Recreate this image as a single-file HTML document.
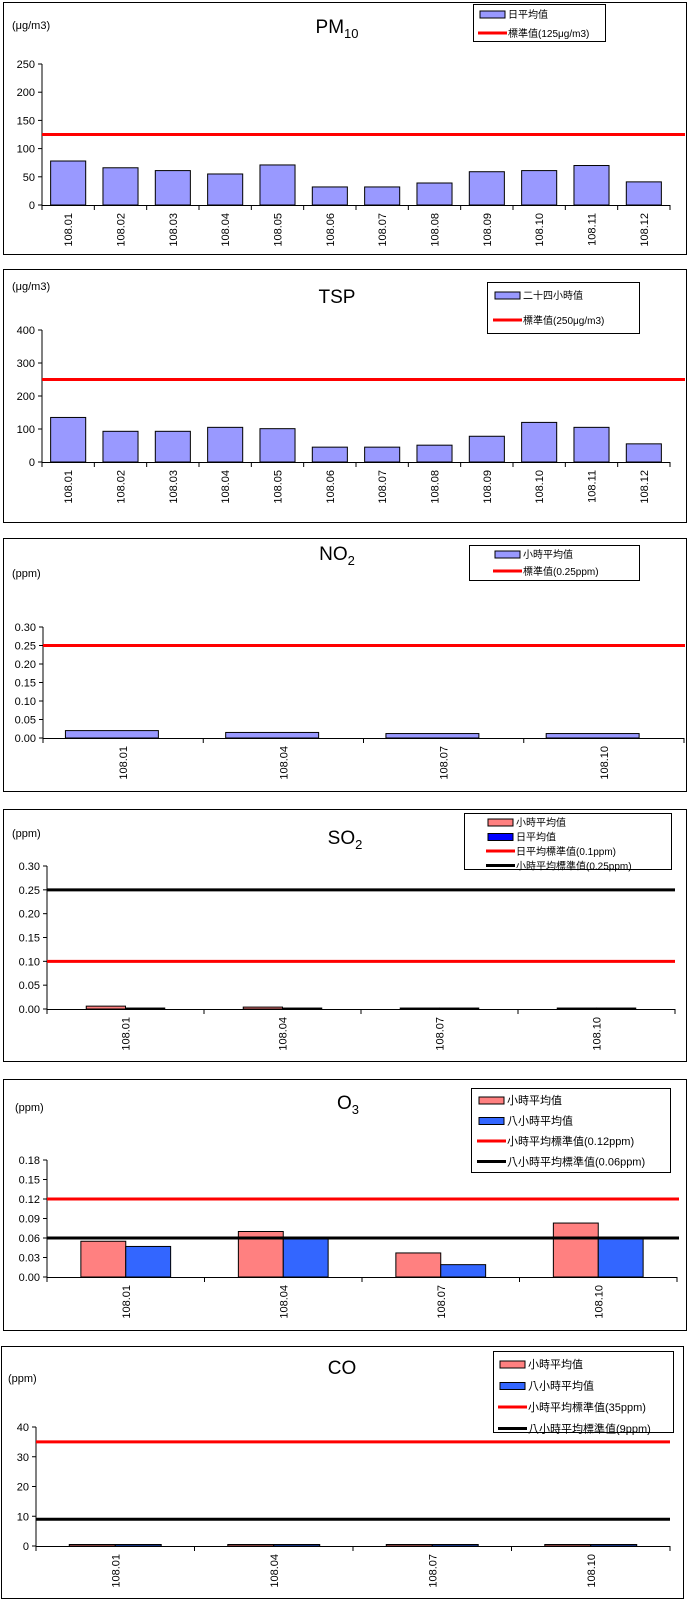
<!DOCTYPE html>
<html><head><meta charset="utf-8">
<style>
body{margin:0;background:#fff;}
svg{display:block;font-family:"Liberation Sans","Noto Sans CJK TC",sans-serif;}
</style></head>
<body>
<svg id="s" width="687" height="1600" xmlns="http://www.w3.org/2000/svg"></svg>
<script>
const monthCats = ["108.01","108.02","108.03","108.04","108.05","108.06","108.07","108.08","108.09","108.10","108.11","108.12"];
const quarterCats = ["108.01","108.04","108.07","108.10"];
const pm10Values = [78,66,61,55,71,32,32,39,59,61,70,41];
const tspValues = [135,93,93,105,101,45,45,51,78,120,105,55];
const no2Values = [0.02,0.015,0.012,0.012];
const so2Hour = [0.006,0.004,0.002,0.002];
const so2Day = [0.002,0.002,0.002,0.002];
const o3Hour = [0.055,0.07,0.037,0.083];
const o3Eight = [0.047,0.059,0.019,0.059];
const coHour = [0.5,0.5,0.5,0.5];
const coEight = [0.5,0.5,0.5,0.5];
const pm10Ticks = ["0","50","100","150","200","250"];
const tspTicks = ["0","100","200","300","400"];
const no2Ticks = ["0.00","0.05","0.10","0.15","0.20","0.25","0.30"];
const so2Ticks = ["0.00","0.05","0.10","0.15","0.20","0.25","0.30"];
const o3Ticks = ["0.00","0.03","0.06","0.09","0.12","0.15","0.18"];
const coTicks = ["0","10","20","30","40"];

const NS="http://www.w3.org/2000/svg";
const svg=document.getElementById('s');
function mk(tag,attrs,parent,text){const e=document.createElementNS(NS,tag);for(const k in attrs)e.setAttribute(k,attrs[k]);if(text!==undefined)e.textContent=text;(parent||svg).appendChild(e);return e;}

function chart(cfg){
  const g=mk('g',{});
  
  
  const fr=mk('rect',{x:cfg.box[0]+0.5,y:cfg.box[1]+0.5,width:cfg.box[2],height:cfg.box[3],fill:'#fff',stroke:'#000','stroke-width':1},g);
  
  
  const x0=cfg.plot[0],x1=cfg.plot[1],yTop=cfg.plot[2],yBot=cfg.plot[3];
  const maxV=cfg.max;
  const yS=v=>yBot-(v/maxV)*(yBot-yTop);
  const n=cfg.cats.length, cw=(x1-x0)/n;
  const xS=i=>x0+i*cw;
  const t=mk('text',{x:cfg.title[0],y:cfg.title[1],'font-size':19,'text-anchor':'middle'},g);
  
  
  mk('tspan',{},t,cfg.title[2]);
  if(cfg.title[3]) mk('tspan',{'font-size':13,dy:5},t,cfg.title[3]);
  const u=mk('text',{x:cfg.unit[0],y:cfg.unit[1],'font-size':11},g,cfg.unit[2]);
  
  
  const ser=cfg.series;
  const bw=cfg.barFrac*cw/ser.length;
  const off=cfg.offFrac!==undefined?cfg.offFrac*cw:(cw-bw*ser.length)/2;
  ser.forEach((s,si)=>{
    s.vals.forEach((v,i)=>{
      const bx=xS(i)+off+si*bw, by=yS(v);
      const r=mk('rect',{x:bx,y:by,width:bw,height:Math.max(yBot-by,1),fill:s.color,stroke:'#000','stroke-width':1},g);
      
      
    });
  });
  mk('line',{x1:x0,y1:yTop,x2:x0,y2:yBot,stroke:'#000'},g);
  mk('line',{x1:x0,y1:yBot+0.5,x2:x1,y2:yBot+0.5,stroke:'#000'},g);
  const step=maxV/(cfg.ticks.length-1);
  cfg.ticks.forEach((lab,i)=>{
    const y=yS(i*step);
    mk('line',{x1:x0-4,y1:y,x2:x0,y2:y,stroke:'#000'},g);
    const tl=mk('text',{x:x0-7,y:y+4,'font-size':11,'text-anchor':'end'},g,lab);
    
    
  });
  for(let i=0;i<=n;i++){mk('line',{x1:xS(i),y1:yBot,x2:xS(i),y2:yBot+5,stroke:'#000'},g);}
  cfg.cats.forEach((c,i)=>{
    const cx=xS(i)+cw/2+4, cy=yBot+8;
    const tl=mk('text',{x:cx,y:cy,'font-size':11,'text-anchor':'end',transform:`rotate(-90 ${cx} ${cy})`},g,c);
    
    
  });
  cfg.lines.forEach(l=>{
    const y=yS(l.v);
    const ln=mk('line',{x1:x0,y1:y,x2:cfg.lineEnd,y2:y,stroke:l.color,'stroke-width':3},g);
    
    
  });
  const L=cfg.legend;
  const lg=mk('g',{},g);
  
  
  mk('rect',{x:L.x+0.5,y:L.y+0.5,width:L.w,height:L.h,fill:'#fff',stroke:'#000'},lg);
  L.items.forEach((it,i)=>{
    const cy=L.y+L.first+i*L.gap;
    if(it.type==='bar') mk('rect',{x:L.x+L.sx,y:cy-3,width:L.sw,height:7,fill:it.color,stroke:'#000'},lg);
    else mk('line',{x1:L.x+L.sx-2,y1:cy,x2:L.x+L.sx+L.sw+2,y2:cy,stroke:it.color,'stroke-width':3},lg);
    const tx0=L.x+L.sx+L.sw+3;
    const tx=mk('text',{x:tx0,y:cy+4,'font-size':L.fs},lg,it.label);
    
    
    const avail=L.x+L.w-4-tx0;
    try{ if(tx.getComputedTextLength()>avail){tx.setAttribute('textLength',avail);tx.setAttribute('lengthAdjust','spacingAndGlyphs');} }catch(e){}
  });
}
const LAV='#9999ff', PINK='#ff8080', BLUE='#3366ff';
chart({id:'pm10',box:[3,2,683,252],plot:[42,670,64,205],max:250,ticks:pm10Ticks,cats:monthCats,
 series:[{key:'daily',vals:pm10Values,color:LAV}],barFrac:0.67,lineEnd:685,
 lines:[{key:'125',v:125,color:'#ff0000'}],title:[337,33,'PM','10'],unit:[12,29,'(μg/m3)'],
 legend:{x:473,y:4,w:132,h:37,first:10,gap:19,sx:7,sw:25,fs:10,items:[{type:'bar',color:LAV,label:'日平均值'},{type:'line',color:'#ff0000',label:'標準值(125μg/m3)'}]}});
chart({id:'tsp',box:[3,269,683,253],plot:[42,670,330,462],max:400,ticks:tspTicks,cats:monthCats,
 series:[{key:'24h',vals:tspValues,color:LAV}],barFrac:0.67,lineEnd:685,
 lines:[{key:'250',v:250,color:'#ff0000'}],title:[337,303,'TSP'],unit:[12,290,'(μg/m3)'],
 legend:{x:487,y:282,w:152,h:51,first:13,gap:25,sx:8,sw:25,fs:10,items:[{type:'bar',color:LAV,label:'二十四小時值'},{type:'line',color:'#ff0000',label:'標準值(250μg/m3)'}]}});
chart({id:'no2',box:[3,538,683,253],plot:[43,684,627,738],max:0.3,ticks:no2Ticks,cats:quarterCats,
 series:[{key:'hourly',vals:no2Values,color:LAV}],barFrac:0.58,offFrac:0.14,lineEnd:685,
 lines:[{key:'0.25',v:0.25,color:'#ff0000'}],title:[337,560,'NO','2'],unit:[12,577,'(ppm)'],
 legend:{x:469,y:545,w:170,h:35,first:9,gap:17,sx:26,sw:25,fs:10,items:[{type:'bar',color:LAV,label:'小時平均值'},{type:'line',color:'#ff0000',label:'標準值(0.25ppm)'}]}});
chart({id:'so2',box:[3,809,683,252],plot:[47,675,866,1009],max:0.3,ticks:so2Ticks,cats:quarterCats,
 series:[{key:'hourly',vals:so2Hour,color:PINK},{key:'daily',vals:so2Day,color:'#0000ff'}],barFrac:0.5,lineEnd:675,
 lines:[{key:'0.1',v:0.1,color:'#ff0000'},{key:'0.25',v:0.25,color:'#000'}],title:[345,844,'SO','2'],unit:[12,837,'(ppm)'],
 legend:{x:464,y:813,w:207,h:56,first:9,gap:14.5,sx:24,sw:25,fs:10,items:[{type:'bar',color:PINK,label:'小時平均值'},{type:'bar',color:'#0000ff',label:'日平均值'},{type:'line',color:'#ff0000',label:'日平均標準值(0.1ppm)'},{type:'line',color:'#000',label:'小時平均標準值(0.25ppm)'}]}});
chart({id:'o3',box:[3,1079,683,251],plot:[47,677,1160,1277],max:0.18,ticks:o3Ticks,cats:quarterCats,
 series:[{key:'hourly',vals:o3Hour,color:PINK},{key:'8h',vals:o3Eight,color:BLUE}],barFrac:0.57,lineEnd:679,
 lines:[{key:'0.12',v:0.12,color:'#ff0000'},{key:'0.06',v:0.06,color:'#000'}],title:[348,1109,'O','3'],unit:[15,1111,'(ppm)'],
 legend:{x:471,y:1088,w:199,h:84,first:12,gap:20.5,sx:8,sw:25,fs:11,items:[{type:'bar',color:PINK,label:'小時平均值'},{type:'bar',color:BLUE,label:'八小時平均值'},{type:'line',color:'#ff0000',label:'小時平均標準值(0.12ppm)'},{type:'line',color:'#000',label:'八小時平均標準值(0.06ppm)'}]}});
chart({id:'co',box:[1,1346,682,252],plot:[36,670,1427,1546],max:40,ticks:coTicks,cats:quarterCats,
 series:[{key:'hourly',vals:coHour,color:PINK},{key:'8h',vals:coEight,color:BLUE}],barFrac:0.58,lineEnd:670,
 lines:[{key:'35',v:35,color:'#ff0000'},{key:'9',v:9,color:'#000'}],title:[342,1374,'CO'],unit:[8,1382,'(ppm)'],
 legend:{x:493,y:1351,w:180,h:81,first:13,gap:21.5,sx:7,sw:25,fs:11,items:[{type:'bar',color:PINK,label:'小時平均值'},{type:'bar',color:BLUE,label:'八小時平均值'},{type:'line',color:'#ff0000',label:'小時平均標準值(35ppm)'},{type:'line',color:'#000',label:'八小時平均標準值(9ppm)'}]}});
</script>
</body></html>
